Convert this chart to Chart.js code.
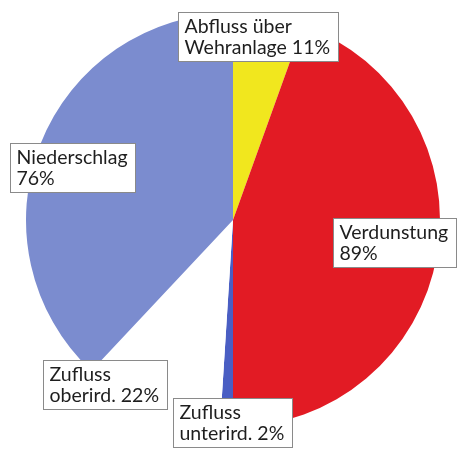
<!DOCTYPE html>
<html>
<head>
<meta charset="utf-8">
<script src="https://cdn.jsdelivr.net/npm/chart.js@4"></script>
<style>
  html, body { margin: 0; padding: 0; background: #ffffff; }
  #wrap { width: 462px; height: 450px; }
</style>
</head>
<body>
<div id="wrap"><canvas id="myChart" width="462" height="450"></canvas></div>
<script>
// Abfluss (rechte Hälfte) und Zufluss (linke Hälfte), jeweils in % der Hälfte
var outLabels = ["Abfluss über Wehranlage", "Verdunstung"];
var outValues = [11, 89];
var inLabels = ["Zufluss unterird.", "Zufluss oberird.", "Niederschlag"];
var inValues = [2, 22, 76];

var sliceColors = ["#f1e71e", "#e21b24", "#4a5ec3", "#ffffff", "#7b8ccf"];

// jede Hälfte ist 50% vom Kreis
var xValues = outLabels.concat(inLabels);
var yValues = outValues.map(function (v) { return v / 2; })
  .concat(inValues.map(function (v) { return v / 2; }));

// Textzeilen der Beschriftungen
var labelLines = [
  ["Abfluss über", "Wehranlage 11%"],
  ["Verdunstung", "89%"],
  ["Zufluss", "unterird. 2%"],
  ["Zufluss", "oberird. 22%"],
  ["Niederschlag", "76%"]
];

// Lage der Kästen relativ zur Kreismitte (links, oben)
var boxOffsets = [
  [-55, -208],
  [100, -2],
  [-60, 178],
  [-190, 140],
  [-223, -77]
];

var boxLabels = {
  id: "boxLabels",
  afterDatasetsDraw: function (chart) {
    var ctx = chart.ctx;
    var arc = chart.getDatasetMeta(0).data[0];
    var cx = arc.x, cy = arc.y;
    ctx.save();
    ctx.font = "19.5px Lato";
    ctx.textBaseline = "middle";
    var lh = 21;
    for (var i = 0; i < labelLines.length; i++) {
      var lines = labelLines[i];
      var w = 0;
      lines.forEach(function (t) { w = Math.max(w, ctx.measureText(t).width); });
      var bx = Math.round(cx + boxOffsets[i][0]) + 0.5;
      var by = Math.round(cy + boxOffsets[i][1]) + 0.5;
      var bw = Math.round(w + 14);
      var bh = lines.length * lh + 7;
      ctx.fillStyle = "#ffffff";
      ctx.fillRect(bx, by, bw, bh);
      ctx.strokeStyle = "#8a8a8a";
      ctx.lineWidth = 1;
      ctx.strokeRect(bx, by, bw, bh);
      ctx.fillStyle = "#1e1e1e";
      for (var j = 0; j < lines.length; j++) {
        ctx.fillText(lines[j], bx + 6, by + 4 + lh / 2 + j * lh);
      }
    }
    ctx.restore();
  }
};

new Chart("myChart", {
  type: "pie",
  data: {
    labels: xValues,
    datasets: [{
      backgroundColor: sliceColors,
      borderWidth: 0,
      data: yValues
    }]
  },
  options: {
    responsive: false,
    animation: false,
    layout: { padding: { left: 26, right: 22, top: 13, bottom: 23 } },
    plugins: {
      legend: { display: false },
      tooltip: { enabled: false },
      title: { display: false }
    }
  },
  plugins: [boxLabels]
});
</script>
</body>
</html>
